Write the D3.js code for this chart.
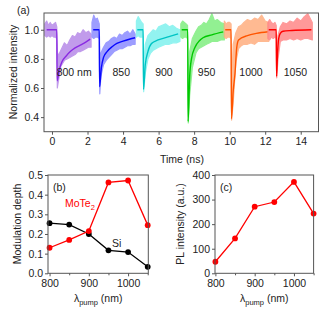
<!DOCTYPE html>
<html>
<head>
<meta charset="utf-8">
<script src="https://cdn.jsdelivr.net/npm/d3@7"></script>
<style>
body { margin: 0; background: #fff; }
svg text { font-family: "Liberation Sans", Arial, sans-serif; fill: #222; }
</style>
</head>
<body>
<div id="chart"></div>
<script>
// panel (a) - traces, one entry per pump wavelength
var traceLabels = ["800 nm", "850", "900", "950", "1000", "1050"];
var labelTimes = [1.25, 3.9, 6.3, 8.7, 11.2, 13.7];
var fitColors = ["#8a2be2", "#0a0aff", "#00c4c4", "#00c800", "#ff5500", "#ff0000"];
var dotColors = ["#b78ae8", "#8c8cff", "#80f2ee", "#80ee80", "#ffae80", "#ff8888"];

var fitT = [
  [-0.3, 0.27, 0.29, 0.4, 0.56, 0.8, 1.03, 1.3, 1.59, 1.9, 2.15],
  [2.32, 2.66, 2.68, 2.78, 2.9, 3.1, 3.4, 3.65, 4.0, 4.35, 4.68],
  [4.8, 5.13, 5.15, 5.25, 5.4, 5.6, 5.97, 6.3, 6.63, 7.1],
  [7.3, 7.64, 7.66, 7.75, 7.85, 8.05, 8.3, 8.5, 9.0, 9.64],
  [9.75, 10.08, 10.1, 10.2, 10.3, 10.4, 10.5, 11.0, 11.5, 12.17],
  [12.2, 12.62, 12.64, 12.7, 12.76, 12.85, 13.0, 13.5, 14.6]
];
var fitV = [
  [1.0, 1.0, 0.65, 0.72, 0.78, 0.82, 0.85, 0.875, 0.894, 0.915, 0.936],
  [1.0, 1.0, 0.61, 0.74, 0.81, 0.85, 0.885, 0.906, 0.922, 0.935, 0.945],
  [1.0, 1.0, 0.59, 0.76, 0.85, 0.905, 0.93, 0.943, 0.955, 0.972],
  [1.0, 1.0, 0.37, 0.68, 0.80, 0.88, 0.925, 0.945, 0.965, 0.985],
  [1.0, 1.0, 0.39, 0.58, 0.70, 0.88, 0.93, 0.96, 0.975, 0.986],
  [1.0, 1.0, 0.68, 0.85, 0.94, 0.975, 0.99, 0.995, 1.0]
];

// measured points, read as upper / lower edge of the noisy band
var dotT = [
  [-0.4, -0.3, -0.2, -0.1, 0.0, 0.1, 0.2, 0.27, 0.3, 0.35, 0.5, 0.7, 0.85, 1.0, 1.15, 1.3, 1.45, 1.6, 1.75, 1.9, 2.05, 2.2],
  [2.25, 2.35, 2.45, 2.55, 2.66, 2.69, 2.75, 2.9, 3.05, 3.2, 3.35, 3.5, 3.65, 3.8, 3.95, 4.1, 4.25, 4.4, 4.55, 4.68],
  [4.75, 4.85, 4.95, 5.05, 5.13, 5.16, 5.25, 5.4, 5.55, 5.7, 5.85, 6.0, 6.2, 6.4, 6.6, 6.8, 7.0, 7.2],
  [7.25, 7.35, 7.45, 7.55, 7.63, 7.67, 7.75, 7.9, 8.1, 8.25, 8.4, 8.55, 8.7, 8.85, 9.0, 9.15, 9.3, 9.5, 9.7],
  [9.7, 9.8, 9.9, 10.0, 10.08, 10.11, 10.2, 10.35, 10.5, 10.65, 10.8, 11.0, 11.2, 11.4, 11.6, 11.8, 12.0, 12.2],
  [12.15, 12.25, 12.35, 12.45, 12.55, 12.62, 12.65, 12.72, 12.85, 13.0, 13.2, 13.4, 13.6, 13.8, 14.0, 14.2, 14.4, 14.65]
];
var dotHi = [
  [1.04, 1.06, 1.03, 1.05, 1.03, 1.04, 1.05, 1.02, 0.85, 0.82, 0.86, 0.91, 0.89, 0.93, 0.96, 0.95, 0.98, 0.97, 1.0, 0.98, 0.99, 0.97],
  [1.05, 1.1, 1.07, 1.08, 1.04, 0.80, 0.84, 0.88, 0.91, 0.92, 0.94, 0.95, 0.94, 0.97, 0.96, 0.98, 0.99, 0.97, 1.0, 0.97],
  [1.06, 1.09, 1.07, 1.05, 1.04, 0.75, 0.90, 0.96, 0.98, 1.0, 0.99, 1.02, 1.03, 1.04, 1.02, 1.03, 1.01, 1.0],
  [1.04, 1.06, 1.05, 1.04, 1.03, 0.60, 0.85, 0.94, 0.99, 1.02, 1.03, 1.05, 1.04, 1.07, 1.11, 1.06, 1.07, 1.05, 1.04],
  [1.06, 1.04, 1.05, 1.05, 1.04, 0.60, 0.90, 0.98, 1.02, 1.03, 1.05, 1.07, 1.06, 1.08, 1.07, 1.10, 1.06, 1.05],
  [1.05, 1.07, 1.05, 1.04, 1.05, 1.03, 0.82, 0.96, 1.02, 1.05, 1.04, 1.06, 1.05, 1.08, 1.06, 1.09, 1.11, 1.05]
];
var dotLo = [
  [0.96, 0.95, 0.96, 0.95, 0.96, 0.95, 0.95, 0.94, 0.60, 0.64, 0.75, 0.79, 0.80, 0.81, 0.82, 0.83, 0.85, 0.85, 0.86, 0.87, 0.88, 0.88],
  [0.95, 0.94, 0.95, 0.95, 0.94, 0.56, 0.68, 0.76, 0.79, 0.81, 0.83, 0.85, 0.86, 0.87, 0.87, 0.88, 0.89, 0.89, 0.90, 0.90],
  [0.95, 0.96, 0.95, 0.95, 0.95, 0.575, 0.70, 0.80, 0.84, 0.86, 0.87, 0.88, 0.89, 0.90, 0.90, 0.91, 0.91, 0.92],
  [0.95, 0.94, 0.95, 0.95, 0.94, 0.36, 0.55, 0.74, 0.84, 0.87, 0.88, 0.89, 0.90, 0.91, 0.92, 0.92, 0.92, 0.93, 0.93],
  [0.95, 0.94, 0.95, 0.95, 0.94, 0.38, 0.50, 0.78, 0.87, 0.89, 0.90, 0.90, 0.91, 0.90, 0.92, 0.92, 0.92, 0.92],
  [0.94, 0.93, 0.95, 0.94, 0.95, 0.94, 0.67, 0.80, 0.92, 0.93, 0.93, 0.94, 0.93, 0.94, 0.93, 0.94, 0.94, 0.93]
];
var timeTicks = [0, 2, 4, 6, 8, 10, 12, 14];
var normTicks = [0.4, 0.6, 0.8, 1.0];

// panels (b) and (c)
var pumpNm = [800, 850, 900, 950, 1000, 1050];
var depthMoTe2 = [0.13, 0.17, 0.215, 0.462, 0.472, 0.245];
var depthSi = [0.255, 0.248, 0.20, 0.117, 0.108, 0.033];
var plIntensity = [47, 142, 271, 290, 372, 243];
var pumpTicks = [800, 900, 1000];
var pumpMinor = [850, 950, 1050];
var depthTicks = [0.0, 0.1, 0.2, 0.3, 0.4, 0.5];
var plTicks = [0, 100, 200, 300, 400];

var W = 335, H = 312;
var frameColor = "#555";

var svg = d3.select("#chart")
            .append("svg")
            .attr("width", W)
            .attr("height", H);

// small helper: frame + axes, ticks outward
function drawFrame(g, x, y) {
    g.append("rect")
        .attr("x", x.range()[0])
        .attr("y", y.range()[1])
        .attr("width", x.range()[1] - x.range()[0])
        .attr("height", y.range()[0] - y.range()[1])
        .attr("fill", "none")
        .attr("stroke", frameColor)
        .attr("stroke-width", 1);
}

function styleAxis(sel) {
    sel.select(".domain").remove();
    sel.selectAll(".tick line").attr("stroke", frameColor);
    sel.selectAll(".tick text")
        .attr("font-size", 10.5)
        .attr("fill", "#222")
        .style("font-family", "'Liberation Sans', Arial, sans-serif");
}

// ---------- panel (a)
var xa = d3.scaleLinear().domain([-0.45, 15.0]).range([44, 318.5]);
var ya = d3.scaleLinear().domain([0.3, 1.115]).range([131.7, 13]);

var ga = svg.append("g");

ga.append("clipPath").attr("id", "clipA")
    .append("rect")
    .attr("x", xa.range()[0]).attr("y", ya.range()[1])
    .attr("width", xa.range()[1] - xa.range()[0])
    .attr("height", ya.range()[0] - ya.range()[1]);

var plotA = ga.append("g").attr("clip-path", "url(#clipA)");

traceLabels.forEach(function(lbl, i) {
    var band = dotT[i].map(function(t, j) { return {t: t, hi: dotHi[i][j], lo: dotLo[i][j]}; });
    var fit = fitT[i].map(function(t, j) { return {t: t, v: fitV[i][j]}; });

    plotA.append("path")
        .datum(band)
        .attr("fill", dotColors[i])
        .attr("stroke", dotColors[i])
        .attr("stroke-width", 1.2)
        .attr("stroke-linejoin", "round")
        .attr("opacity", 0.85)
        .attr("d", d3.area()
            .x(function(d) { return xa(d.t); })
            .y0(function(d) { return ya(d.lo); })
            .y1(function(d) { return ya(d.hi); }));

    plotA.append("path")
        .datum(fit)
        .attr("fill", "none")
        .attr("stroke", fitColors[i])
        .attr("stroke-width", 1.4)
        .attr("d", d3.line()
            .curve(d3.curveMonotoneX)
            .x(function(d) { return xa(d.t); })
            .y(function(d) { return ya(d.v); }));

    ga.append("text")
        .attr("x", xa(labelTimes[i]))
        .attr("y", 75.5)
        .attr("text-anchor", "middle")
        .attr("font-size", 10.5)
        .text(lbl);
});

drawFrame(ga, xa, ya);

ga.append("g")
    .attr("transform", "translate(0," + ya.range()[0] + ")")
    .call(d3.axisBottom(xa).tickValues(timeTicks).tickSize(3).tickPadding(3).tickFormat(d3.format("d")))
    .call(styleAxis);

ga.append("g")
    .attr("transform", "translate(" + xa.range()[0] + ",0)")
    .call(d3.axisLeft(ya).tickValues(normTicks).tickSize(3).tickPadding(2).tickFormat(d3.format(".1f")))
    .call(styleAxis);

ga.append("text")
    .attr("x", 182).attr("y", 162.5)
    .attr("text-anchor", "middle")
    .attr("font-size", 10.5)
    .text("Time (ns)");

ga.append("text")
    .attr("transform", "translate(17,72) rotate(-90)")
    .attr("text-anchor", "middle")
    .attr("font-size", 10.5)
    .text("Normalized intensity");

ga.append("text")
    .attr("x", 17).attr("y", 14)
    .attr("font-size", 10.5)
    .text("(a)");

// ---------- panel (b)
var xb = d3.scaleLinear().domain([796, 1051.5]).range([48, 148.3]);
var yb = d3.scaleLinear().domain([0, 0.5]).range([273.3, 175]);
var gb = svg.append("g");

function pumpAxes(g, x, y, yTicks, yFmt) {
    g.append("g")
        .attr("transform", "translate(0," + y.range()[0] + ")")
        .call(d3.axisBottom(x).tickValues(pumpTicks).tickSize(3).tickPadding(3).tickFormat(d3.format("d")))
        .call(styleAxis);
    g.append("g")
        .attr("transform", "translate(0," + y.range()[0] + ")")
        .call(d3.axisBottom(x).tickValues(pumpMinor).tickSize(2).tickFormat(""))
        .call(styleAxis);
    g.append("g")
        .attr("transform", "translate(" + x.range()[0] + ",0)")
        .call(d3.axisLeft(y).tickValues(yTicks).tickSize(3).tickPadding(2).tickFormat(yFmt))
        .call(styleAxis);

    var lab = g.append("text")
        .attr("x", (x.range()[0] + x.range()[1]) / 2)
        .attr("y", 302)
        .attr("text-anchor", "middle")
        .attr("font-size", 10.5);
    lab.append("tspan").text("λ");
    lab.append("tspan").attr("font-size", 7.5).attr("dy", 2.5).text("pump");
    lab.append("tspan").attr("dy", -2.5).text(" (nm)");
}

function series(g, x, y, vals, color) {
    var pts = pumpNm.map(function(n, i) { return {n: n, v: vals[i]}; });
    g.append("path")
        .datum(pts)
        .attr("fill", "none")
        .attr("stroke", color)
        .attr("stroke-width", 1.3)
        .attr("d", d3.line()
            .x(function(d) { return x(d.n); })
            .y(function(d) { return y(d.v); }));
    g.selectAll(null)
        .data(pts)
        .enter()
        .append("circle")
        .attr("cx", function(d) { return x(d.n); })
        .attr("cy", function(d) { return y(d.v); })
        .attr("r", 2.9)
        .attr("fill", color);
}

series(gb, xb, yb, depthSi, "#000");
series(gb, xb, yb, depthMoTe2, "#ff0000");
drawFrame(gb, xb, yb);
pumpAxes(gb, xb, yb, depthTicks, d3.format(".1f"));

gb.append("text")
    .attr("transform", "translate(21,224) rotate(-90)")
    .attr("text-anchor", "middle")
    .attr("font-size", 10.5)
    .text("Modulation depth");

gb.append("text").attr("x", 53).attr("y", 191).attr("font-size", 10.5).text("(b)");

var mo = gb.append("text").attr("x", 65).attr("y", 207).attr("font-size", 10.5)
    .style("fill", "#ff0000");
mo.append("tspan").text("MoTe");
mo.append("tspan").attr("font-size", 7.5).attr("dy", 2.5).text("2");

gb.append("text").attr("x", 112).attr("y", 247).attr("font-size", 10.5).text("Si");

// ---------- panel (c)
var xc = d3.scaleLinear().domain([799, 1050]).range([215, 313.6]);
var yc = d3.scaleLinear().domain([0, 400]).range([273.3, 175]);
var gc = svg.append("g");

series(gc, xc, yc, plIntensity, "#ff0000");
drawFrame(gc, xc, yc);
pumpAxes(gc, xc, yc, plTicks, d3.format("d"));

gc.append("text")
    .attr("transform", "translate(184,224) rotate(-90)")
    .attr("text-anchor", "middle")
    .attr("font-size", 10.5)
    .text("PL intensity (a.u.)");

gc.append("text").attr("x", 220).attr("y", 191).attr("font-size", 10.5).text("(c)");
</script>
</body>
</html>
